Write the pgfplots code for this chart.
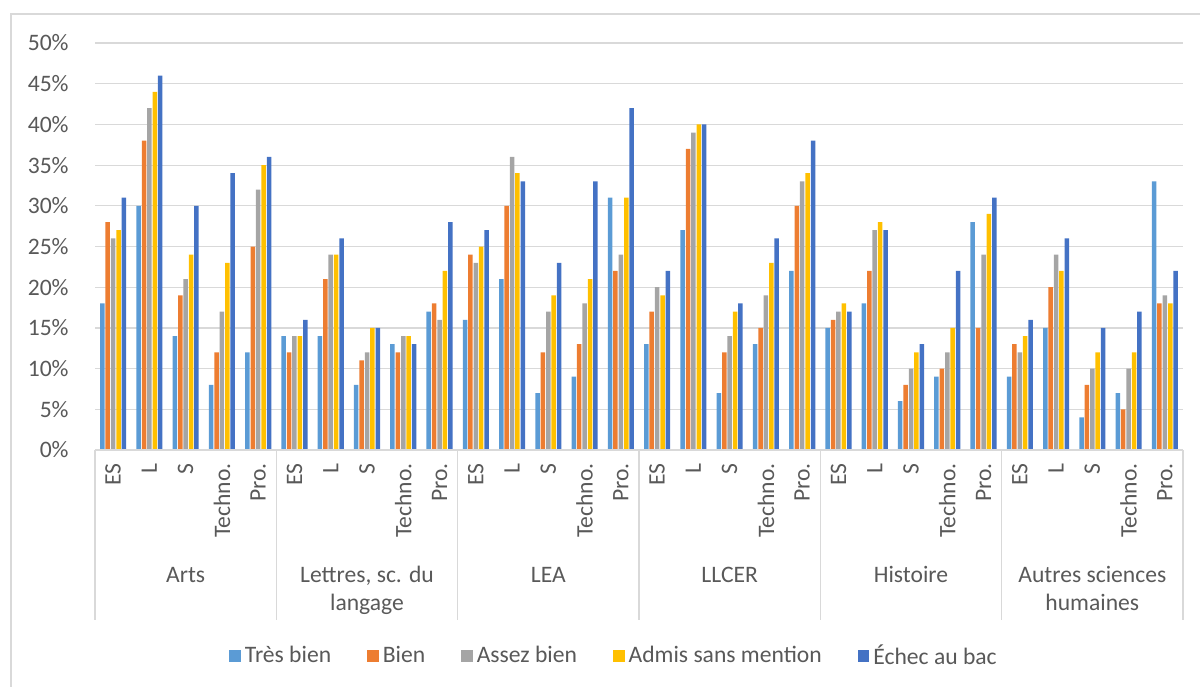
\documentclass[border=0pt]{standalone}
\usepackage{pgfplots}
\usepackage{pgfplotstable}
\pgfplotsset{compat=1.18}
\usepackage{fontspec}
\setmainfont{Carlito}

\definecolor{tb}{HTML}{5B9BD5}
\definecolor{bi}{HTML}{ED7D31}
\definecolor{ab}{HTML}{A5A5A5}
\definecolor{ad}{HTML}{FFC000}
\definecolor{ec}{HTML}{4472C4}
\definecolor{gridc}{HTML}{D9D9D9}
\definecolor{textc}{HTML}{595959}

% x: 0-4 Arts, 5-9 Lettres, 10-14 LEA, 15-19 LLCER, 20-24 Histoire, 25-29 Autres
\pgfplotstableread{
x  tb bien assez admis echec
0  18 28 26 27 31
1  30 38 42 44 46
2  14 19 21 24 30
3  8  12 17 23 34
4  12 25 32 35 36
5  14 12 14 14 16
6  14 21 24 24 26
7  8  11 12 15 15
8  13 12 14 14 13
9  17 18 16 22 28
10 16 24 23 25 27
11 21 30 36 34 33
12 7  12 17 19 23
13 9  13 18 21 33
14 31 22 24 31 42
15 13 17 20 19 22
16 27 37 39 40 40
17 7  12 14 17 18
18 13 15 19 23 26
19 22 30 33 34 38
20 15 16 17 18 17
21 18 22 27 28 27
22 6  8  10 12 13
23 9  10 12 15 22
24 28 15 24 29 31
25 9  13 12 14 16
26 15 20 24 22 26
27 4  8  10 12 15
28 7  5  10 12 17
29 33 18 19 18 22
}\datatable

\tikzset{grp/.style={anchor=north, align=center, inner sep=0pt, text=textc,
                     font=\fontsize{11.8}{14}\selectfont}}

\begin{document}
\begin{tikzpicture}
\begin{axis}[
  scale only axis,
  width=544pt, height=203.5pt,
  ybar=0.45pt, bar width=2.25pt,
  xmin=-0.5, xmax=29.5,
  ymin=0, ymax=50,
  xtick={0,...,29},
  xticklabels={ES,L,S,Techno.,Pro.,ES,L,S,Techno.,Pro.,ES,L,S,Techno.,Pro.,
               ES,L,S,Techno.,Pro.,ES,L,S,Techno.,Pro.,ES,L,S,Techno.,Pro.},
  ytick={0,5,...,50},
  yticklabel={\pgfmathprintnumber{\tick}\%},
  /pgf/number format/assume math mode=true,
  ymajorgrids,
  grid style={draw=gridc, line width=0.6pt},
  axis line style={draw=none},
  major tick length=0pt,
  tick label style={font=\fontsize{11.8}{14}\selectfont, text=textc},
  yticklabel style={inner sep=0pt, xshift=-13pt},
  xticklabel style={rotate=90, anchor=east, inner sep=0pt, xshift=-6.5pt},
  clip=false,
  legend columns=5,
  legend image code/.code={\fill[#1,draw=none] (0pt,-2.9pt) rectangle (5.8pt,2.9pt);},
  legend style={at={(0.478,-0.506)}, anchor=center, draw=none,
    font=\fontsize{11.8}{14}\selectfont, text=textc,
    /tikz/every even column/.append style={column sep=16pt}},
]
\addplot[fill=tb, draw=none] table[x=x, y=tb] {\datatable};
\addplot[fill=bi, draw=none] table[x=x, y=bien] {\datatable};
\addplot[fill=ab, draw=none] table[x=x, y=assez] {\datatable};
\addplot[fill=ad, draw=none] table[x=x, y=admis] {\datatable};
\addplot[fill=ec, draw=none] table[x=x, y=echec] {\datatable};
\legend{Très bien, Bien, Assez bien, Admis sans mention, Échec au bac}

% category axis: base line and group separators
\draw[gridc, line width=0.6pt] (axis cs:-0.5,0) -- (axis cs:29.5,0);
\pgfplotsinvokeforeach{-0.5,4.5,9.5,14.5,19.5,24.5,29.5}{
  \draw[gridc, line width=0.6pt] (axis cs:#1,0) -- ++(0pt,-85pt);
}

% group names
\node[grp] at ([yshift=-56.2pt]axis cs:2,0)  {\strut Arts};
\node[grp] at ([yshift=-56.2pt]axis cs:7,0)  {\strut Lettres, sc. du\\langage};
\node[grp] at ([yshift=-56.2pt]axis cs:12,0) {\strut LEA};
\node[grp] at ([yshift=-56.2pt]axis cs:17,0) {\strut LLCER};
\node[grp] at ([yshift=-56.2pt]axis cs:22,0) {\strut Histoire};
\node[grp] at ([yshift=-56.2pt]axis cs:27,0) {\strut Autres sciences\\humaines};
\end{axis}

% chart frame
\draw[gridc, line width=0.6pt] (553pt,218pt) -- (-42pt,218pt) -- (-42pt,-119pt);
\pgfresetboundingbox
\path[use as bounding box] (-47.5pt,225pt) rectangle (552.5pt,-118pt);
\end{tikzpicture}
\end{document}
